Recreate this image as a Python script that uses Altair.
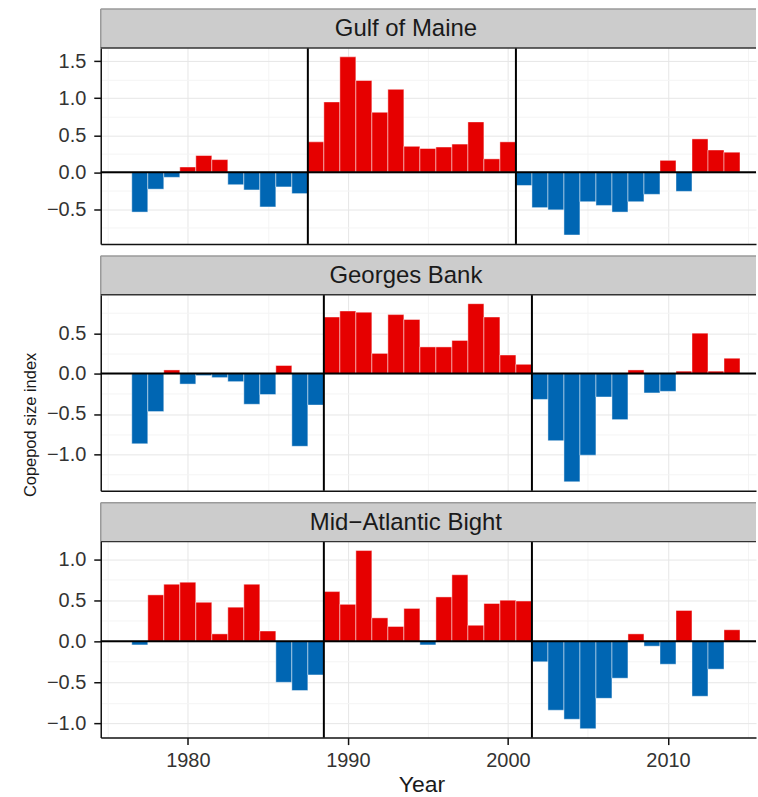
import altair as alt
import pandas as pd

# ---------------- data ----------------
years = list(range(1977, 2015))

gulf_of_maine = [-0.54, -0.23, -0.07, 0.07, 0.225, 0.17, -0.17, -0.24, -0.47, -0.20, -0.29,
                 0.41, 0.95, 1.56, 1.24, 0.81, 1.12, 0.35, 0.32, 0.34, 0.38, 0.68, 0.18, 0.41,
                 -0.18, -0.48, -0.51, -0.85, -0.40, -0.45, -0.54, -0.40, -0.30, 0.16, -0.26, 0.45, 0.30, 0.27]
georges_bank = [-0.87, -0.47, 0.045, -0.13, -0.025, -0.05, -0.10, -0.38, -0.26, 0.10, -0.90, -0.39,
                0.70, 0.775, 0.76, 0.25, 0.73, 0.67, 0.33, 0.33, 0.41, 0.865, 0.70, 0.23, 0.115,
                -0.32, -0.83, -1.34, -1.01, -0.29, -0.57, 0.045, -0.24, -0.22, 0.03, 0.50, 0.03, 0.19]
mid_atlantic = [-0.045, 0.565, 0.695, 0.72, 0.475, 0.09, 0.415, 0.695, 0.125, -0.50, -0.60, -0.41,
                0.605, 0.45, 1.105, 0.285, 0.18, 0.40, -0.045, 0.54, 0.81, 0.195, 0.46, 0.50, 0.49,
                -0.25, -0.84, -0.95, -1.065, -0.695, -0.45, 0.09, -0.06, -0.28, 0.375, -0.67, -0.34, 0.14]

panel_names = ["Gulf of Maine", "Georges Bank", "Mid\u2212Atlantic Bight"]
breaks_gom = [1987.5, 2000.5]
breaks_gb = [1988.5, 2001.5]
breaks_mab = [1988.5, 2001.5]

x_ticks = [1975, 1980, 1985, 1990, 1995, 2000, 2005, 2010, 2015]
y_ticks_gom = [-0.75, -0.5, -0.25, 0.0, 0.25, 0.5, 0.75, 1.0, 1.25, 1.5]
y_ticks_gb = [-1.25, -1.0, -0.75, -0.5, -0.25, 0.0, 0.25, 0.5, 0.75]
y_ticks_mab = [-1.0, -0.75, -0.5, -0.25, 0.0, 0.25, 0.5, 0.75, 1.0]

x_domain = [1974.56, 2015.5]

# ---------------- styling ----------------
W = 657
H = 196.5
STRIP = 39
RED = "#E60000"
BLUE = "#0066B3"
FONT = "Liberation Sans"

major_y = "abs(round(datum.value * 4)) % 2 == 0"
major_x = "datum.value % 10 == 0"


def panel(name, values, breaks, yticks, bottom=False, ytitle=False):
    df = pd.DataFrame({"year": years, "value": values})
    lo, hi = min(values), max(values)
    pad = 0.05 * (hi - lo)
    ydom = [lo - pad, hi + pad]

    xaxis_kw = dict(
        values=x_ticks,
        grid=True,
        gridColor={"condition": {"test": major_x, "value": "#E6E6E6"}, "value": "#F4F4F4"},
        gridWidth=1,
        domain=True,
        domainColor="#111111",
        domainWidth=1.5,
        labelOverlap=False,
        labelPadding=6,
    )
    if bottom:
        xaxis_kw.update(
            labelExpr="datum.value % 10 == 0 ? format(datum.value, 'd') : ''",
            tickOpacity={"condition": {"test": major_x, "value": 1}, "value": 0},
            title="Year",
            titleX=321.5,
            titlePadding=3,
        )
    else:
        xaxis_kw.update(labelExpr="''", tickOpacity=0, title=None)

    yaxis_kw = dict(
        values=yticks,
        grid=True,
        gridColor={"condition": {"test": major_y, "value": "#E6E6E6"}, "value": "#F4F4F4"},
        gridWidth=1,
        labelExpr=major_y + " ? format(datum.value, '.1f') : ''",
        labelOverlap=False,
        labelPadding=8,
        tickOpacity={"condition": {"test": major_y, "value": 1}, "value": 0},
        domainColor="#111111",
        domainWidth=1.5,
        title=None,
    )
    if ytitle:
        yaxis_kw.update(
            title="Copepod size index",
            titleX=-62,
            titleY=130,
            titleFontSize=16.5,
        )

    xaxis = alt.Axis(**xaxis_kw)
    yaxis = alt.Axis(**yaxis_kw)
    xscale = alt.Scale(domain=x_domain, nice=False, zero=False)
    yscale = alt.Scale(domain=ydom, nice=False, zero=False)

    bars = (
        alt.Chart(df)
        .transform_calculate(
            x0="datum.year - 0.5",
            x1="datum.year + 0.5",
            base="0",
            sign="datum.value >= 0 ? 'pos' : 'neg'",
        )
        .mark_rect(stroke="white", strokeWidth=1, strokeOpacity=0.45)
        .encode(
            x=alt.X("x0:Q", scale=xscale, axis=xaxis),
            x2="x1:Q",
            y=alt.Y("value:Q", scale=yscale, axis=yaxis),
            y2="base:Q",
            color=alt.Color("sign:N", scale=alt.Scale(domain=["pos", "neg"], range=[RED, BLUE]),
                            legend=None),
        )
    )

    zero = alt.Chart(pd.DataFrame({"z": [0.0]})).mark_rule(color="black", strokeWidth=2).encode(
        y=alt.Y("z:Q", scale=yscale, axis=yaxis))
    brk = alt.Chart(pd.DataFrame({"b": breaks})).mark_rule(color="black", strokeWidth=2).encode(
        x=alt.X("b:Q", scale=xscale, axis=xaxis))

    one = pd.DataFrame({"name": [name]})
    strip_bg = alt.Chart(one).mark_rect(fill="#CCCCCC").encode(
        x=alt.value(0), x2=alt.value(W), y=alt.value(-STRIP), y2=alt.value(0))
    strip_top = alt.Chart(one).mark_rule(color="#9A9A9A", strokeWidth=1.5).encode(
        x=alt.value(0), x2=alt.value(W), y=alt.value(-STRIP))
    strip_left = alt.Chart(one).mark_rule(color="#9A9A9A", strokeWidth=1.5).encode(
        x=alt.value(0), y=alt.value(-STRIP), y2=alt.value(0))
    frame_top = alt.Chart(one).mark_rule(color="#333333", strokeWidth=1.5).encode(
        x=alt.value(0), x2=alt.value(W), y=alt.value(0))
    strip_text = alt.Chart(one).mark_text(
        font=FONT, fontSize=24, color="#1A1A1A", baseline="middle", align="center"
    ).encode(text="name:N", x=alt.value(306), y=alt.value(-STRIP / 2 + 1))

    return alt.layer(
        bars, strip_bg, strip_top, strip_left, zero, brk, frame_top, strip_text
    ).properties(width=W, height=H)


p1 = panel(panel_names[0], gulf_of_maine, breaks_gom, y_ticks_gom)
p2 = panel(panel_names[1], georges_bank, breaks_gb, y_ticks_gb, ytitle=True)
p3 = panel(panel_names[2], mid_atlantic, breaks_mab, y_ticks_mab, bottom=True)

chart = (
    alt.vconcat(p1, p2, p3, spacing=50.5, bounds="flush")
    .resolve_scale(y="independent")
    .properties(padding={"left": 22, "top": 6, "right": 0, "bottom": 0})
    .configure_view(stroke="transparent")
    .configure_axis(
        labelFont=FONT,
        labelFontSize=20,
        labelColor="#333333",
        tickColor="#111111",
        tickSize=7,
        tickWidth=1.5,
        titleFont=FONT,
        titleFontSize=23,
        titleFontWeight="normal",
        titleColor="#1A1A1A",
    )
)

chart.save("out.html", embed_options={"renderer": "svg", "actions": False})
